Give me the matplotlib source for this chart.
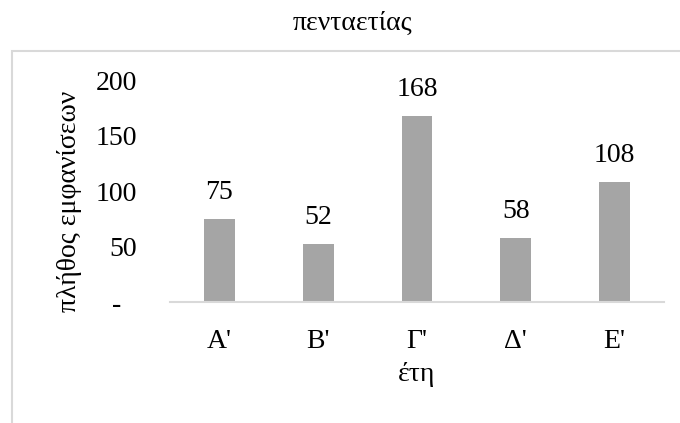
import matplotlib
matplotlib.use("Agg")
import matplotlib.pyplot as plt
from matplotlib.patches import Rectangle
from matplotlib.transforms import ScaledTranslation

categories = ["A'", "B'", "Γ'", "Δ'", "E'"]
values = [75, 52, 168, 58, 108]
yticks = [0, 50, 100, 150, 200]
ytick_labels = ["-", "50", "100", "150", "200"]
title = "πενταετίας"
xlabel = "έτη"
ylabel = "πλήθος εμφανίσεων"

FONT = "Liberation Serif"
plt.rcParams['font.family'] = FONT
FS = 20

fig = plt.figure(figsize=(6.8, 4.23), dpi=100)
L, R, T, B = 170, 664, 80, 302
ax = fig.add_axes([L/680, 1-B/423, (R-L)/680, (B-T)/423])

x = list(range(len(categories)))
ax.bar(x, values, width=0.31, color="#A5A5A5", zorder=2)
for xi, v in zip(x, values):
    ax.annotate(str(v), (xi, v), xytext=(0, 10), textcoords="offset points",
                ha="center", va="bottom", fontsize=FS, color="black", family=FONT)

ax.set_xlim(-0.5, len(categories) - 0.5)
ax.set_ylim(0, 200)
ax.set_yticks(yticks)
ax.set_yticklabels(ytick_labels, family=FONT, fontsize=FS)
ax.set_xticks(x)
ax.set_xticklabels(categories, family=FONT, fontsize=FS)
ax.tick_params(axis="both", length=0)
ax.tick_params(axis="x", pad=19.5)
ax.tick_params(axis="y", pad=24)
for s in ["top", "right", "left"]:
    ax.spines[s].set_visible(False)
ax.spines["bottom"].set_color("#D9D9D9")
ax.spines["bottom"].set_linewidth(1.5)

# accounting-style zero label sits left of the other labels
lab0 = ax.get_yticklabels()[0]
lab0.set_transform(lab0.get_transform() + ScaledTranslation(-0.15, 0, fig.dpi_scale_trans))

ax.set_xlabel(xlabel, fontsize=FS, family=FONT, labelpad=5.5)
ax.set_ylabel(ylabel, fontsize=FS, family=FONT)
ax.yaxis.set_label_coords((82 - L) / (R - L), (B - 201) / (B - T))

fig.text(352/680, 1-30/423, title, ha="center", va="baseline", fontsize=FS, family=FONT)

rect = Rectangle((12/680, -0.1), 1.0, (1-51/423) + 0.1, transform=fig.transFigure,
                 fill=False, edgecolor="#D9D9D9", linewidth=1.5, clip_on=False)
fig.patches.append(rect)

fig.savefig("out.png", dpi=100)
